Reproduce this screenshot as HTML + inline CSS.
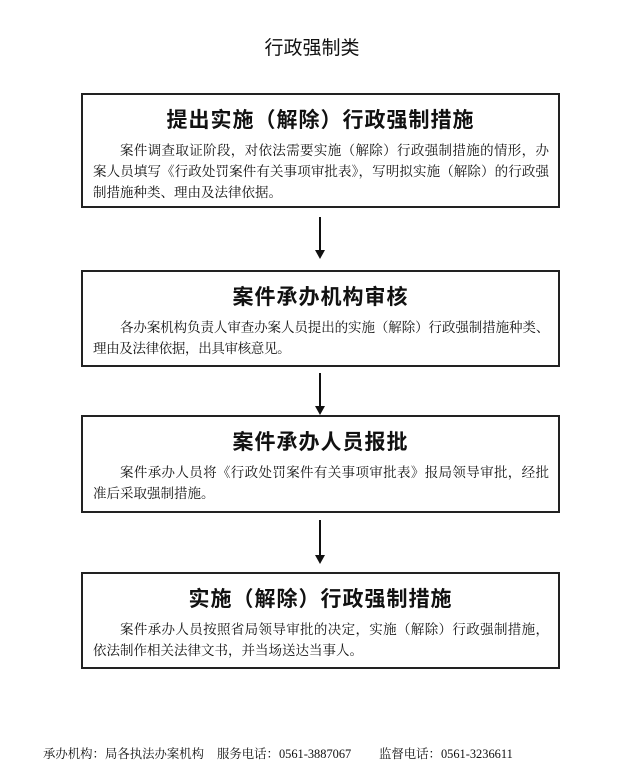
<!DOCTYPE html>
<html><head><meta charset="utf-8"><style>
body{margin:0;width:624px;height:782px;background:#fff;position:relative;font-family:"Liberation Serif","Noto Serif CJK SC","Noto Sans CJK SC",serif;color:#111;overflow:hidden}
.t{position:absolute;left:0;width:624px;text-align:center;top:33px;font-size:19px;font-family:"Liberation Sans","Noto Sans CJK SC",sans-serif}
.b{position:absolute;left:81px;width:475px;border:2px solid #222;box-sizing:content-box}
.b h{display:block;text-align:center;font-weight:bold;font-size:21px;font-family:"Liberation Sans","Noto Sans CJK SC",sans-serif;margin-top:11px;height:30px;line-height:30px;letter-spacing:1px}
.b p{margin:4px 9px 0 10px;font-size:13.5px;line-height:21px;text-indent:27px;text-align:justify}
.a{position:absolute;left:319px;width:2px;background:#111}
.h{position:absolute;left:315px;width:0;height:0;border-left:5px solid transparent;border-right:5px solid transparent;border-top:9px solid #111}
.f{position:absolute;top:744px;font-size:12.4px;white-space:nowrap}
</style></head><body>
<div class="t">行政强制类</div>
<div class="b" style="top:93px;height:111px"><h>提出实施（解除）行政强制措施</h><p>案件调查取证阶段，对依法需要实施（解除）行政强制措施的情形，办案人员填写《行政处罚案件有关事项审批表》，写明拟实施（解除）的行政强制措施种类、理由及法律依据。</p></div>
<div class="a" style="top:217px;height:34px"></div><div class="h" style="top:250px"></div>
<div class="b" style="top:270px;height:93px"><h>案件承办机构审核</h><p style="letter-spacing:-0.35px">各办案机构负责人审查办案人员提出的实施（解除）行政强制措施种类、理由及法律依据，出具审核意见。</p></div>
<div class="a" style="top:373px;height:34px"></div><div class="h" style="top:406px"></div>
<div class="b" style="top:415px;height:94px"><h>案件承办人员报批</h><p>案件承办人员将《行政处罚案件有关事项审批表》报局领导审批，经批准后采取强制措施。</p></div>
<div class="a" style="top:520px;height:36px"></div><div class="h" style="top:555px"></div>
<div class="b" style="top:572px;height:93px"><h>实施（解除）行政强制措施</h><p>案件承办人员按照省局领导审批的决定，实施（解除）行政强制措施，依法制作相关法律文书，并当场送达当事人。</p></div>
<div class="f" style="left:43px">承办机构：局各执法办案机构</div>
<div class="f" style="left:217px">服务电话：0561-3887067</div>
<div class="f" style="left:379px">监督电话：0561-3236611</div>
</body></html>
